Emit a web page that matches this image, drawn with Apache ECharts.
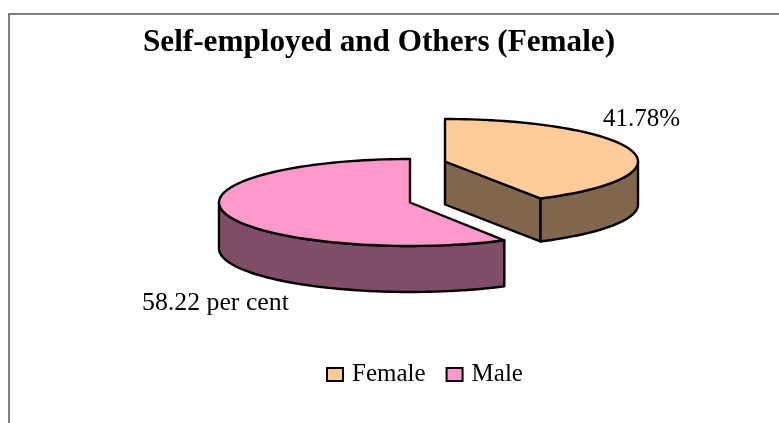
<!DOCTYPE html>
<html><head><meta charset="utf-8">
<style>html,body{margin:0;padding:0;background:#fff}#c{width:779px;height:423px}</style>
<script src="https://cdn.jsdelivr.net/npm/echarts@6/dist/echarts.min.js"></script>
</head><body><div id="c"></div>
<script>
const categories = ["Female", "Male"];
const values = [41.78, 58.22];
const labels = ["41.78%", "58.22 per cent"];
const titleText = "Self-employed and Others (Female)";
const topColors = ["#FFCC99", "#FF99CC"];
const sideColors = ["#80664D", "#804D66"];

const FONT = '"Liberation Serif","Times New Roman",serif';
const geometry = [
  {cx:445, cy:161.5, rx:193, ry:42.5, depth:43, lx:603, ly:107, fs:25},
  {cx:410, cy:202.5, rx:191, ry:43.5, depth:46, lx:142, ly:290, fs:25.8}
];
const total = values.reduce((a,b)=>a+b,0);
const chart = echarts.init(document.getElementById('c'), null, {renderer:'canvas'});

function arc(g, a0, a1, dy) {
  const pts = [], n = Math.max(2, Math.ceil(Math.abs(a1-a0)/2));
  for (let i=0;i<=n;i++){
    const t = (a0+(a1-a0)*i/n)*Math.PI/180;
    pts.push([g.cx+g.rx*Math.sin(t), g.cy-g.ry*Math.cos(t)+dy]);
  }
  return pts;
}
function makeRender(idx){
  return function(params, api){
    const before = values.slice(0,idx).reduce((a,b)=>a+b,0);
    const a0 = before/total*360, a1 = a0+api.value(0)/total*360;
    const g = geometry[idx];
    const stroke = {stroke:'#000', lineWidth:2.4, lineJoin:'round'};
    const face = (pts, fill)=>({type:'polygon', shape:{points:pts}, style:Object.assign({fill}, stroke)});
    const kids = [];
    const wall = (s,e)=>{
      const t = arc(g,s,e,0), b = arc(g,s,e,g.depth).reverse();
      kids.push(face(t.concat(b), sideColors[idx]));
    };
    if (idx===0) {
      const c = arc(g,a1,a1,0)[0];
      wall(90, a1);
      kids.push(face([[g.cx,g.cy],c,[c[0],c[1]+g.depth],[g.cx,g.cy+g.depth]], sideColors[idx]));
    } else {
      wall(a0, 270);
    }
    const top = [[g.cx,g.cy]].concat(arc(g,a0,a1,0));
    kids.push(face(top, topColors[idx]));
    kids.push({type:'text', style:{text:labels[idx], x:g.lx, y:g.ly, fill:'#000', font:g.fs+'px '+FONT}});
    return {type:'group', children:kids};
  };
}
chart.setOption({
  animation:false,
  backgroundColor:'#fff',
  title:{text:titleText, left:143, top:27, padding:0,
    textStyle:{fontFamily:FONT, fontSize:31.2, fontWeight:'bold', color:'#000'}},
  legend:{data:categories, left:326, top:362, itemWidth:16, itemHeight:13, itemGap:20, icon:'rect', padding:0,
    textStyle:{fontFamily:FONT, fontSize:25, color:'#000', padding:[0,0,0,4]}},
  graphic:[{type:'polyline', silent:true, z:-1,
    shape:{points:[[9,423],[9,14],[779,14]]}, style:{stroke:'#555', lineWidth:1.5, fill:null}}],
  series:categories.map((name,i)=>({
    type:'custom', name, coordinateSystem:'none', data:[values[i]],
    itemStyle:{color:topColors[i], borderColor:'#000', borderWidth:2},
    renderItem:makeRender(i)
  }))
});
</script></body></html>
